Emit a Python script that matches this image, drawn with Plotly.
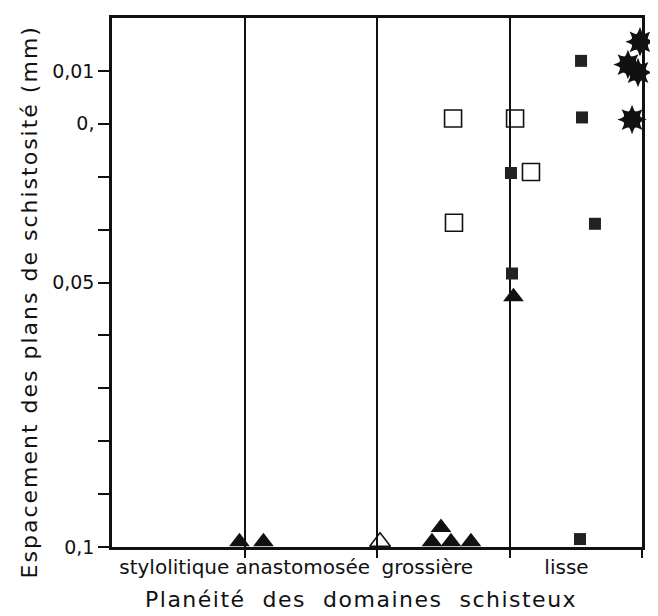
import plotly.graph_objects as go

# ---------------- data ----------------
categories = ["stylolitique", "anastomosée", "grossière", "lisse"]
ytick_vals = [0.01, 0.02, 0.03, 0.04, 0.05, 0.06, 0.07, 0.08, 0.09, 0.1]
ytick_text = ["0,01", "0,", "", "", "0,05", "", "", "", "", "0,1"]

# filled triangles (x = planéité on 0-4 scale, y = spacing in mm)
tri_x = [0.962, 1.143, 2.415, 2.558, 2.483, 2.709, 3.030]
tri_y = [0.0990, 0.0990, 0.0990, 0.0990, 0.0963, 0.0990, 0.0527]
# open triangle
tri_open_x = [2.023]
tri_open_y = [0.0990]
# open squares
sq_open_x = [2.574, 3.042, 2.581, 3.162]
sq_open_y = [0.0190, 0.0190, 0.0387, 0.0291]
# filled squares
sq_fill_x = [3.540, 3.547, 3.011, 3.645, 3.019, 3.532]
sq_fill_y = [0.0081, 0.0188, 0.0293, 0.0389, 0.0483, 0.0985]
# stars
star_x = [3.985, 3.894, 4.045, 3.970, 3.925, 4.008]
star_y = [0.0045, 0.0088, 0.0088, 0.0103, 0.0192, 0.0207]

FONT = "DejaVu Sans"
INK = "#111111"
# where each category name sits under its band (slightly left of centre, as drawn)
label_offsets = [-0.03, -0.06, -0.12, -0.07]

fig = go.Figure()

fig.add_trace(go.Scatter(x=sq_open_x, y=sq_open_y, mode="markers", cliponaxis=False,
                         marker=dict(symbol="square-open", size=17, color=INK,
                                     line=dict(width=1.6, color=INK))))
fig.add_trace(go.Scatter(x=sq_fill_x, y=sq_fill_y, mode="markers", cliponaxis=False,
                         marker=dict(symbol="square", size=12, color="#222222",
                                     line=dict(width=0))))
fig.add_trace(go.Scatter(x=tri_x, y=tri_y, mode="markers", cliponaxis=False,
                         marker=dict(symbol="triangle-up", size=18, color=INK,
                                     line=dict(width=0))))
fig.add_trace(go.Scatter(x=tri_open_x, y=tri_open_y, mode="markers", cliponaxis=False,
                         marker=dict(symbol="triangle-up-open", size=18, color=INK,
                                     line=dict(width=1.5, color=INK))))
for ang in (0, 45):
    fig.add_trace(go.Scatter(x=star_x, y=star_y, mode="markers", cliponaxis=False,
                             marker=dict(symbol="star-diamond", size=21, angle=ang,
                                         color=INK, line=dict(width=0))))

# the page body adds an 8 px margin, so the figure is 8 px smaller each way
fig.update_layout(
    width=650, height=608,
    margin=dict(l=104, r=16, t=7, b=69),
    paper_bgcolor="white", plot_bgcolor="white",
    showlegend=False,
    font=dict(family=FONT, color=INK),
    xaxis=dict(
        range=[0, 4], tickmode="array",
        tickvals=[i + 0.5 + o for i, o in enumerate(label_offsets)], ticktext=categories,
        ticks="", showgrid=False, zeroline=False,
        showline=True, linecolor=INK, linewidth=2.5, mirror=True,
        tickfont=dict(size=20, family=FONT, color=INK),
        minor=dict(tickvals=[1, 2, 3, 4], ticks="outside", ticklen=8, tickwidth=2,
                   tickcolor=INK, showgrid=True, gridcolor=INK, gridwidth=1.5),
    ),
    yaxis=dict(
        range=[0.1, 0], tickmode="array", tickvals=ytick_vals, ticktext=ytick_text,
        ticks="outside", ticklen=11, tickwidth=1.5, tickcolor=INK,
        showgrid=False, zeroline=False,
        showline=True, linecolor=INK, linewidth=2.5, mirror=True,
        tickfont=dict(size=19, family=FONT, color=INK),
    ),
    annotations=[
        dict(text='<span style="letter-spacing:2px">Espacement des plans de schistosité (mm)</span>',
             xref="paper", yref="paper", x=-0.155, y=0.464, textangle=-90,
             showarrow=False, xanchor="center", yanchor="middle",
             font=dict(size=22, family=FONT, color=INK)),
        dict(text='<span style="letter-spacing:1.5px">Planéité\u00a0 des\u00a0 domaines\u00a0 schisteux</span>',
             xref="paper", yref="paper", x=0.47, y=-0.127,
             showarrow=False, xanchor="center", yanchor="bottom",
             font=dict(size=22, family=FONT, color=INK)),
    ],
)

fig.write_html("out.html")
